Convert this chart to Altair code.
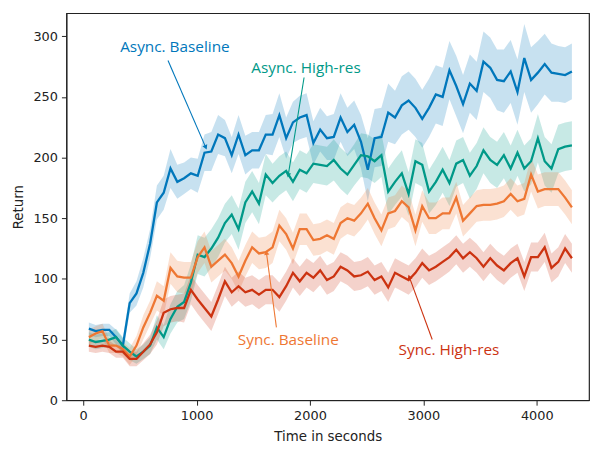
import math
import altair as alt
import pandas as pd

# ---------------- data ----------------
times = [50 + 60 * i for i in range(72)]

series_names = ["Async. Baseline", "Async. High-res", "Sync. Baseline", "Sync. High-res"]
series_colors = ["#0077BB", "#009988", "#EE7733", "#CC3311"]

async_baseline = [59, 57, 58, 58, 52, 45, 80, 88, 105, 129,
                  163, 171, 191, 180, 183, 187, 185, 204, 205, 219,
                  216, 202, 219, 202, 206, 206, 219, 219, 235, 216,
                  229, 233, 235, 212, 223, 216, 217, 233, 221, 227,
                  213, 190, 216, 217, 237, 233, 243, 247, 241, 232,
                  241, 252, 250, 272, 259, 244, 261, 255, 279, 274,
                  264, 263, 271, 254, 282, 264, 270, 277, 270, 269,
                  268, 271]
async_baseline_hw = [5, 5, 5, 5, 6, 6, 8, 10, 12, 12,
                     14, 14, 16, 14, 13, 13, 14, 15, 16, 16,
                     15, 15, 16, 16, 15, 15, 16, 17, 18, 17,
                     17, 18, 18, 18, 18, 18, 19, 20, 20, 20,
                     22, 26, 24, 24, 24, 22, 24, 24, 24, 24,
                     24, 24, 24, 24, 25, 24, 24, 24, 25, 25,
                     25, 26, 26, 27, 28, 27, 26, 25, 24, 23,
                     23, 23]

async_highres = [50, 48, 49, 50, 52, 45, 40, 36, 40, 45,
                 60, 52, 67, 77, 81, 97, 120, 118, 125, 134,
                 146, 153, 141, 163, 172, 162, 186, 179, 185, 189,
                 180, 190, 187, 195, 194, 193, 198, 191, 186, 194,
                 202, 201, 197, 202, 172, 180, 187, 170, 197, 194,
                 172, 180, 190, 179, 195, 198, 185, 193, 206, 198,
                 194, 202, 191, 204, 191, 197, 216, 197, 191, 207,
                 209, 210]
async_highres_hw = [6, 6, 6, 6, 7, 7, 7, 6, 6, 7,
                    10, 10, 12, 13, 14, 15, 16, 16, 16, 16,
                    16, 16, 17, 17, 17, 17, 17, 16, 16, 16,
                    16, 16, 16, 16, 16, 16, 17, 17, 17, 17,
                    18, 18, 18, 18, 19, 19, 19, 18, 18, 18,
                    18, 19, 19, 19, 19, 19, 19, 19, 19, 19,
                    19, 19, 19, 19, 19, 19, 20, 20, 20, 20,
                    20, 20]

sync_baseline = [52, 55, 57, 45, 45, 42, 36, 45, 60, 72,
                 86, 82, 109, 102, 101, 101, 118, 126, 110, 115,
                 120, 113, 102, 115, 126, 121, 122, 126, 144, 137,
                 125, 141, 141, 132, 133, 136, 133, 146, 150, 148,
                 154, 162, 150, 140, 154, 156, 164, 159, 140, 160,
                 150, 150, 154, 154, 167, 148, 154, 160, 161, 161,
                 162, 164, 170, 164, 166, 186, 172, 174, 174, 174,
                 167, 159]
sync_baseline_hw = [6, 6, 6, 6, 6, 6, 7, 8, 10, 10,
                    12, 12, 13, 13, 13, 13, 13, 13, 13, 13,
                    13, 13, 13, 13, 13, 13, 13, 13, 13, 13,
                    13, 13, 13, 13, 13, 13, 13, 13, 13, 13,
                    13, 13, 13, 13, 13, 13, 13, 13, 13, 13,
                    13, 13, 13, 13, 13, 13, 13, 13, 13, 13,
                    13, 13, 13, 13, 13, 14, 14, 14, 14, 14,
                    14, 14]

sync_highres = [45, 44, 45, 44, 40, 40, 34, 34, 40, 46,
                56, 72, 75, 76, 76, 91, 83, 76, 69, 83,
                98, 89, 94, 89, 91, 87, 91, 91, 85, 94,
                105, 98, 105, 101, 107, 99, 102, 110, 107, 102,
                103, 106, 99, 102, 93, 105, 102, 99, 105, 113,
                107, 110, 114, 118, 124, 117, 122, 117, 110, 117,
                111, 107, 113, 117, 102, 118, 118, 126, 109, 114,
                125, 117]
sync_highres_hw = [5, 5, 5, 5, 5, 5, 6, 6, 7, 8,
                   10, 11, 11, 11, 12, 12, 12, 12, 12, 12,
                   12, 12, 12, 12, 12, 12, 12, 12, 12, 12,
                   12, 12, 12, 12, 12, 12, 12, 12, 12, 12,
                   12, 12, 12, 12, 12, 12, 12, 12, 12, 12,
                   12, 12, 12, 12, 12, 12, 12, 12, 12, 12,
                   12, 12, 12, 12, 12, 12, 12, 12, 12, 12,
                   12, 12]

# annotations: label, text x, text y, arrow tail x, tail y, arrow head x, head y (data units)
ann_labels = series_names
ann_text_x = [809, 1965, 1809, 3226]
ann_text_y = [291, 274, 50, 41]
ann_tail_x = [748, 1948, 1704, 3078]
ann_tail_y = [280, 266, 60, 50]
ann_head_x = [1078, 1809, 1617, 2878]
ann_head_y = [209, 186, 121, 101]

# ---------------- build tables ----------------
x_domain = [-148, 4461]
y_domain = [0, 319]
W, H = 528, 391

values = [async_baseline, async_highres, sync_baseline, sync_highres]
hws = [async_baseline_hw, async_highres_hw, sync_baseline_hw, sync_highres_hw]
rows = []
for name, vals, hw in zip(series_names, values, hws):
    for t, v, h in zip(times, vals, hw):
        rows.append({"t": t, "v": v, "lo": v - h, "hi": v + h, "series": name})
df = pd.DataFrame(rows)

sx = W / (x_domain[1] - x_domain[0])
sy = H / (y_domain[1] - y_domain[0])
ann_rows = []
for i, lab in enumerate(ann_labels):
    dx = (ann_head_x[i] - ann_tail_x[i]) * sx
    dy = -(ann_head_y[i] - ann_tail_y[i]) * sy
    ang = math.degrees(math.atan2(dx, -dy)) % 360
    ann_rows.append({"series": lab, "tx": ann_text_x[i], "ty": ann_text_y[i],
                     "ax": ann_tail_x[i], "ay": ann_tail_y[i],
                     "hx": ann_head_x[i], "hy": ann_head_y[i], "ang": ang})
ann = pd.DataFrame(ann_rows)

color = alt.Color("series:N", scale=alt.Scale(domain=series_names, range=series_colors), legend=None)
xs = alt.Scale(domain=x_domain, nice=False, zero=False)
ys = alt.Scale(domain=y_domain, nice=False)

xax = alt.Axis(values=[0, 1000, 2000, 3000, 4000], format="d", title="Time in seconds", grid=False)
yax = alt.Axis(values=[0, 50, 100, 150, 200, 250, 300], format="d", title="Return", grid=False)

base = alt.Chart(df)
bands = base.mark_area(opacity=0.22).encode(
    x=alt.X("t:Q", scale=xs, axis=xax),
    y=alt.Y("lo:Q", scale=ys, axis=yax),
    y2="hi:Q",
    color=color,
    detail="series:N",
)
lines = base.mark_line(strokeWidth=2.3).encode(
    x=alt.X("t:Q", scale=xs),
    y=alt.Y("v:Q", scale=ys),
    color=color,
    detail="series:N",
)

abase = alt.Chart(ann)
arrows = abase.mark_rule(strokeWidth=1.1).encode(
    x=alt.X("ax:Q", scale=xs), y=alt.Y("ay:Q", scale=ys),
    x2="hx:Q", y2="hy:Q", color=color,
)
heads = abase.mark_point(shape="triangle", filled=True, size=28, opacity=1).encode(
    x=alt.X("hx:Q", scale=xs), y=alt.Y("hy:Q", scale=ys),
    angle=alt.Angle("ang:Q", scale=None), color=color,
)
texts = abase.mark_text(font="Open Sans", fontSize=15.5, baseline="middle", align="center").encode(
    x=alt.X("tx:Q", scale=xs), y=alt.Y("ty:Q", scale=ys),
    text="series:N", color=color,
)

chart = alt.layer(bands, lines, arrows, heads, texts).properties(
    width=W, height=H,
    autosize=alt.AutoSizeParams(type="none"),
    padding={"left": 59, "top": 3, "right": 3, "bottom": 43},
).configure_view(
    stroke="#222", strokeWidth=1.2
).configure_axis(
    labelFont="DejaVu Sans", labelFontSize=13, labelColor="#222",
    titleFont="DejaVu Sans", titleFontSize=13.5, titleFontWeight="normal", titleColor="#222",
    domainColor="#222", tickColor="#222", tickSize=5, labelPadding=4,
).configure_axisX(titlePadding=8).configure_axisY(titlePadding=8)

chart.save("out.html", embed_options={"renderer": "svg", "actions": False})
